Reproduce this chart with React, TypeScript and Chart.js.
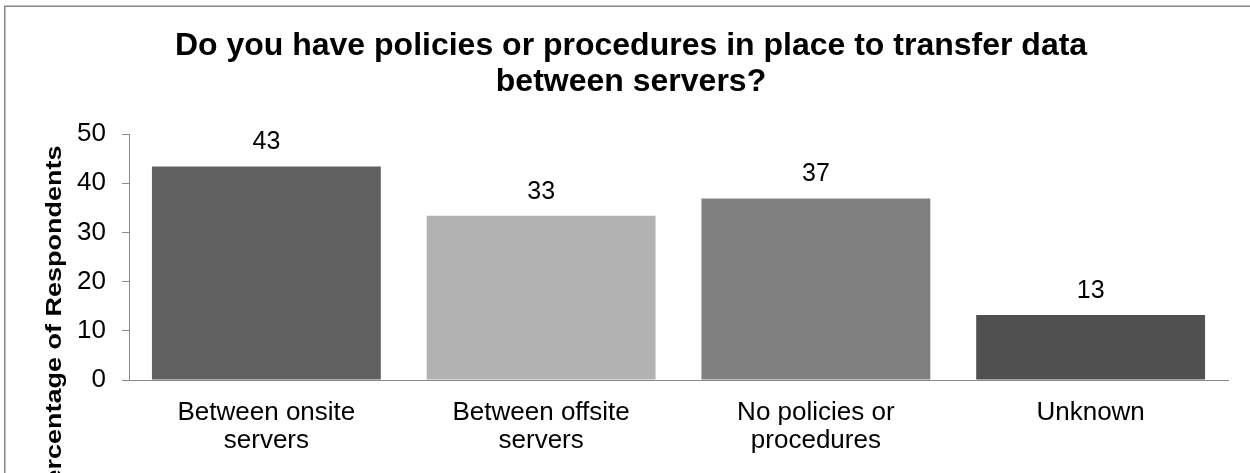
import React, { useEffect, useRef } from "react";
import { Chart, registerables } from "chart.js";

Chart.register(...registerables);

const titleLines = [
  "Do you have policies or procedures in place to transfer data",
  "between servers?",
];
const yAxisTitle = "Percentage of Respondents";
const categories = [
  ["Between onsite", "servers"],
  ["Between offsite", "servers"],
  ["No policies or", "procedures"],
  ["Unknown"],
];
const values = [43.4, 33.4, 36.9, 13.2];
const valueLabels = ["43", "33", "37", "13"];
const barColors = ["#606060", "#b2b2b2", "#808080", "#505050"];
const yMin = 0;
const yMax = 50;
const yStep = 10;

const FONT = "'Liberation Sans', Arial, Helvetica, sans-serif";

const framePlugin = {
  id: "frame",
  beforeDraw(chart: any) {
    const ctx = chart.ctx;
    ctx.save();
    ctx.fillStyle = "#ffffff";
    ctx.fillRect(0, 0, chart.width, chart.height);
    ctx.strokeStyle = "#868686";
    ctx.lineWidth = 1.5;
    ctx.strokeRect(4.75, 6.25, 1300, 700);
    ctx.restore();
  },
};

const yTitlePlugin = {
  id: "yTitle",
  afterDraw(chart: any) {
    const ctx = chart.ctx;
    ctx.save();
    ctx.translate(61, 324);
    ctx.rotate(-Math.PI / 2);
    ctx.scale(1.2, 1);
    ctx.font = `bold 22.5px ${FONT}`;
    ctx.fillStyle = "#000000";
    ctx.textAlign = "center";
    ctx.textBaseline = "alphabetic";
    ctx.fillText(yAxisTitle, 0, 0);
    ctx.restore();
  },
};

const valueLabelPlugin = {
  id: "valueLabels",
  afterDatasetsDraw(chart: any) {
    const ctx = chart.ctx;
    const meta = chart.getDatasetMeta(0);
    ctx.save();
    ctx.font = `25px ${FONT}`;
    ctx.fillStyle = "#000000";
    ctx.textAlign = "center";
    ctx.textBaseline = "alphabetic";
    meta.data.forEach((bar: any, i: number) => {
      ctx.fillText(valueLabels[i], bar.x, bar.y - 17);
    });
    ctx.restore();
  },
};

export default function App() {
  const ref = useRef<HTMLCanvasElement | null>(null);

  useEffect(() => {
    if (!ref.current) return;
    const chart = new Chart(ref.current, {
      type: "bar",
      data: {
        labels: categories,
        datasets: [
          {
            data: values,
            backgroundColor: barColors,
            borderWidth: 0,
            categoryPercentage: 1,
            barPercentage: 0.833,
          },
        ],
      },
      options: {
        animation: false,
        responsive: false,
        devicePixelRatio: 1,
        layout: { padding: { left: 34, right: 22, top: 0, bottom: 0 } },
        plugins: {
          legend: { display: false },
          tooltip: { enabled: false },
          title: {
            display: true,
            text: titleLines,
            color: "#000000",
            font: { family: FONT, size: 32, weight: "bold", lineHeight: 1.125 },
            padding: { top: 28, bottom: 34 },
          },
        },
        scales: {
          x: {
            grid: { display: false, drawTicks: false },
            border: { display: true, color: "#898989", width: 1 },
            ticks: {
              color: "#000000",
              font: { family: FONT, size: 26, lineHeight: 28 / 26 },
              padding: 19,
              maxRotation: 0,
              autoSkip: false,
            },
            afterFit(scale: any) {
              scale.height = 93;
            },
          },
          y: {
            min: yMin,
            max: yMax,
            grid: {
              display: true,
              drawOnChartArea: false,
              drawTicks: true,
              tickLength: 7,
              color: "#898989",
            },
            border: { display: true, color: "#898989", width: 1 },
            ticks: {
              stepSize: yStep,
              color: "#000000",
              font: { family: FONT, size: 26 },
              padding: 16,
            },
            afterFit(scale: any) {
              scale.width = 95;
            },
          },
        },
      },
      plugins: [framePlugin, yTitlePlugin, valueLabelPlugin],
    });
    return () => chart.destroy();
  }, []);

  return (
    <div style={{ position: "absolute", left: 0, top: 0, width: 1250, height: 473, overflow: "hidden" }}>
      <canvas ref={ref} width={1250} height={473} style={{ display: "block" }} />
    </div>
  );
}
